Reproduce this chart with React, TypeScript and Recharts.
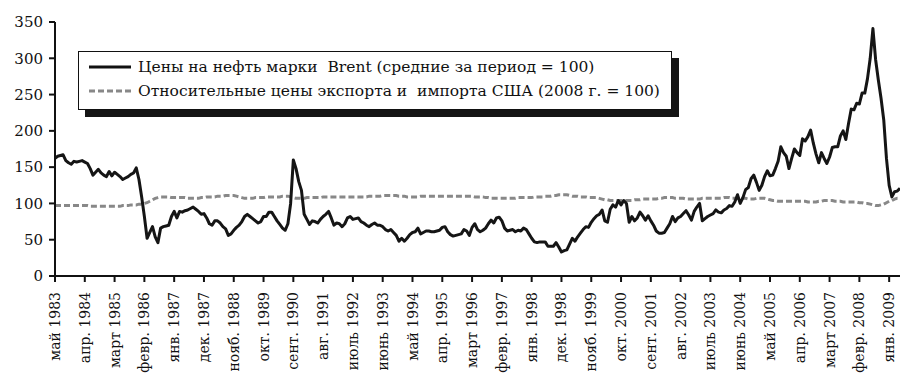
import React from 'react';
import { LineChart, Line, XAxis, YAxis, Legend } from 'recharts';

// Brent oil price, monthly, May 1983 .. May 2009 (period average = 100)
const brent: number[] = [
  162, 165, 166, 167, 159, 156, 154, 158, 157, 158, 159, 157,
  155, 148, 139, 143, 147, 142, 139, 137, 144, 138, 143, 140,
  137, 133, 135, 137, 140, 142, 149, 133, 109, 82, 52, 60,
  68, 54, 46, 66, 68, 69, 70, 82, 89, 80, 89, 88,
  90, 91, 93, 95, 92, 89, 85, 86, 80, 72, 70, 76,
  76, 73, 68, 65, 56, 58, 63, 67, 70, 75, 82, 85,
  82, 79, 76, 73, 75, 82, 82, 88, 88, 82, 76, 71,
  66, 63, 72, 100, 160, 148, 130, 118, 85, 78, 71, 76,
  75, 73, 78, 82, 85, 89, 80, 70, 73, 72, 68, 72,
  80, 82, 78, 79, 80, 75, 73, 70, 68, 71, 73, 70,
  70, 68, 64, 62, 64, 60, 56, 48, 52, 48, 52, 57,
  60, 61, 66, 58, 60, 62, 62, 61, 61, 62, 63, 67,
  68, 61, 57, 55, 56, 57, 58, 64, 62, 56, 67, 72,
  64, 61, 63, 66, 72, 77, 73, 80, 81, 76, 66, 62,
  63, 64, 61, 63, 62, 66, 64, 58, 52, 47, 46, 47,
  47, 47, 41, 41, 41, 46, 40, 33, 35, 36, 44, 52,
  48, 54, 59, 64, 68, 67, 74, 79, 83, 85, 91, 76,
  74, 92, 98, 95, 104, 98, 104, 100, 74, 82, 76, 80,
  88, 83, 77, 83, 76, 70, 62, 59, 59, 60, 66, 72,
  82, 75, 80, 82, 86, 90, 84, 77, 89, 95, 100, 76,
  79, 82, 84, 86, 91, 88, 87, 91, 93, 97, 96, 102,
  112, 100, 108, 119, 122, 134, 139, 129, 118, 125, 137, 145,
  138, 139, 148, 158, 178, 170, 165, 148, 162, 175, 170, 166,
  189, 186, 192, 201, 183, 168, 156, 170, 162, 155, 164, 177,
  178, 178, 193, 200, 188, 210, 230, 229, 238, 237, 252, 252,
  272, 300, 341, 298, 270, 245, 215, 162, 125, 109, 116, 117,
  121,
];

// US export/import relative prices (2008 = 100)
const relPrices: number[] = [
  97, 97, 97, 97, 97, 97, 97, 97, 97, 97, 97, 97,
  97, 96, 96, 96, 96, 96, 96, 96, 96, 96, 96, 96,
  96, 97, 97, 97, 98, 98, 98, 99, 99, 100, 101, 103,
  105, 107, 108, 109, 109, 109, 109, 108, 108, 108, 108, 108,
  108, 107, 107, 107, 107, 107, 108, 108, 109, 109, 109, 109,
  110, 110, 110, 111, 111, 111, 111, 110, 109, 108, 107, 107,
  107, 107, 108, 108, 108, 108, 109, 109, 109, 109, 109, 109,
  110, 110, 110, 109, 108, 107, 107, 107, 107, 108, 108, 108,
  108, 108, 108, 109, 109, 109, 109, 109, 109, 109, 109, 109,
  109, 109, 109, 109, 109, 109, 109, 109, 110, 110, 110, 110,
  110, 111, 111, 111, 111, 111, 111, 110, 110, 110, 109, 109,
  109, 109, 109, 110, 110, 110, 110, 110, 110, 110, 110, 110,
  110, 110, 110, 110, 110, 110, 110, 110, 110, 110, 110, 109,
  109, 109, 109, 108, 108, 107, 107, 107, 107, 107, 107, 107,
  107, 107, 107, 108, 108, 108, 108, 108, 108, 109, 109, 109,
  109, 110, 110, 110, 111, 111, 112, 112, 112, 112, 111, 110,
  110, 110, 109, 109, 109, 108, 108, 108, 108, 107, 106, 105,
  105, 104, 104, 104, 104, 104, 104, 104, 104, 104, 105, 105,
  105, 106, 106, 106, 106, 106, 106, 107, 107, 108, 108, 108,
  108, 107, 107, 107, 107, 106, 106, 106, 106, 106, 106, 107,
  107, 107, 107, 107, 107, 107, 107, 108, 108, 108, 107, 107,
  107, 107, 107, 107, 106, 106, 106, 107, 107, 107, 107, 106,
  105, 104, 104, 103, 103, 103, 103, 103, 103, 103, 103, 103,
  103, 103, 102, 102, 102, 102, 103, 103, 104, 104, 104, 104,
  103, 103, 103, 102, 102, 102, 102, 102, 102, 101, 101, 100,
  100, 99, 98, 97, 97, 98, 99, 101, 103, 104, 106, 107,
  107,
];

const tickLabels: string[] = [
  'май 1983', 'апр. 1984', 'март 1985', 'февр. 1986', 'янв. 1987', 'дек. 1987',
  'нояб. 1988', 'окт. 1989', 'сент. 1990', 'авг. 1991', 'июль 1992', 'июнь 1993',
  'май 1994', 'апр. 1995', 'март 1996', 'февр. 1997', 'янв. 1998', 'дек. 1998',
  'нояб. 1999', 'окт. 2000', 'сент. 2001', 'авг. 2002', 'июль 2003', 'июнь 2004',
  'май 2005', 'апр. 2006', 'март 2007', 'февр. 2008', 'янв. 2009',
];
const tickStep = 11;
const yTicks: number[] = [0, 50, 100, 150, 200, 250, 300, 350];

const legendBrent = 'Цены на нефть марки  Brent (средние за период = 100)';
const legendRel = 'Относительные цены экспорта и  импорта США (2008 г. = 100)';

const data = brent.map((v, i) => ({ m: i, brent: v, rel: relPrices[i] }));
const xTicks = tickLabels.map((_, i) => i * tickStep);

const FONT = '"DejaVu Serif", serif';

const RotTick = (props: any) => {
  const { x, y, payload } = props;
  const label = tickLabels[Math.round(payload.value / tickStep)] ?? '';
  const ty = y + 8;
  return (
    <text
      x={x}
      y={ty}
      transform={`rotate(-90 ${x} ${ty})`}
      textAnchor="end"
      dy="0.36em"
      fontFamily={FONT}
      fontSize={14}
      fill="#111"
    >
      {label}
    </text>
  );
};

const LegendBox = () => (
  <div
    style={{
      width: 592,
      height: 57,
      border: '1px solid #111',
      background: '#fff',
      boxShadow: '7px 7px 0 #151515',
      fontFamily: FONT,
      fontSize: 15.5,
      color: '#111',
      position: 'relative',
      whiteSpace: 'pre',
    }}
  >
    <div style={{ position: 'absolute', left: 10, top: 3, height: 24, display: 'flex', alignItems: 'center' }}>
      <svg width={42} height={6} style={{ marginRight: 7 }}>
        <line x1={0} y1={3} x2={42} y2={3} stroke="#111" strokeWidth={3.2} />
      </svg>
      <span>{legendBrent}</span>
    </div>
    <div style={{ position: 'absolute', left: 10, top: 27, height: 24, display: 'flex', alignItems: 'center' }}>
      <svg width={42} height={6} style={{ marginRight: 7 }}>
        <line x1={0} y1={3} x2={42} y2={3} stroke="#888" strokeWidth={3.2} strokeDasharray="6 3" />
      </svg>
      <span>{legendRel}</span>
    </div>
  </div>
);

export default function App() {
  return (
    <div style={{ position: 'fixed', left: 0, top: 0, width: 920, height: 387, background: '#fff' }}>
      <LineChart
        width={920}
        height={387}
        data={data}
        margin={{ top: 22, right: 20, bottom: 0, left: 5 }}
      >
        <XAxis
          type="number"
          dataKey="m"
          domain={[0, 312]}
          ticks={xTicks}
          interval={0}
          height={111}
          tick={<RotTick />}
          tickSize={6}
          axisLine={{ stroke: '#111', strokeWidth: 2 }}
          tickLine={{ stroke: '#111', strokeWidth: 2 }}
          allowDataOverflow
        />
        <YAxis
          type="number"
          domain={[0, 350]}
          ticks={yTicks}
          interval={0}
          width={50}
          tickSize={6}
          tickMargin={6}
          tick={{ fontFamily: FONT, fontSize: 15, fill: '#111' }}
          axisLine={{ stroke: '#111', strokeWidth: 2 }}
          tickLine={{ stroke: '#111', strokeWidth: 2 }}
        />
        <Legend
          layout="vertical"
          align="center"
          verticalAlign="middle"
          content={<LegendBox />}
          wrapperStyle={{ position: 'absolute', left: 78, top: 51, width: 600, height: 70 }}
        />
        <Line
          type="linear"
          dataKey="rel"
          stroke="#888"
          strokeWidth={3}
          strokeDasharray="6 3"
          dot={false}
          isAnimationActive={false}
        />
        <Line
          type="linear"
          dataKey="brent"
          stroke="#151515"
          strokeWidth={3}
          strokeLinejoin="round"
          dot={false}
          isAnimationActive={false}
        />
      </LineChart>
    </div>
  );
}
